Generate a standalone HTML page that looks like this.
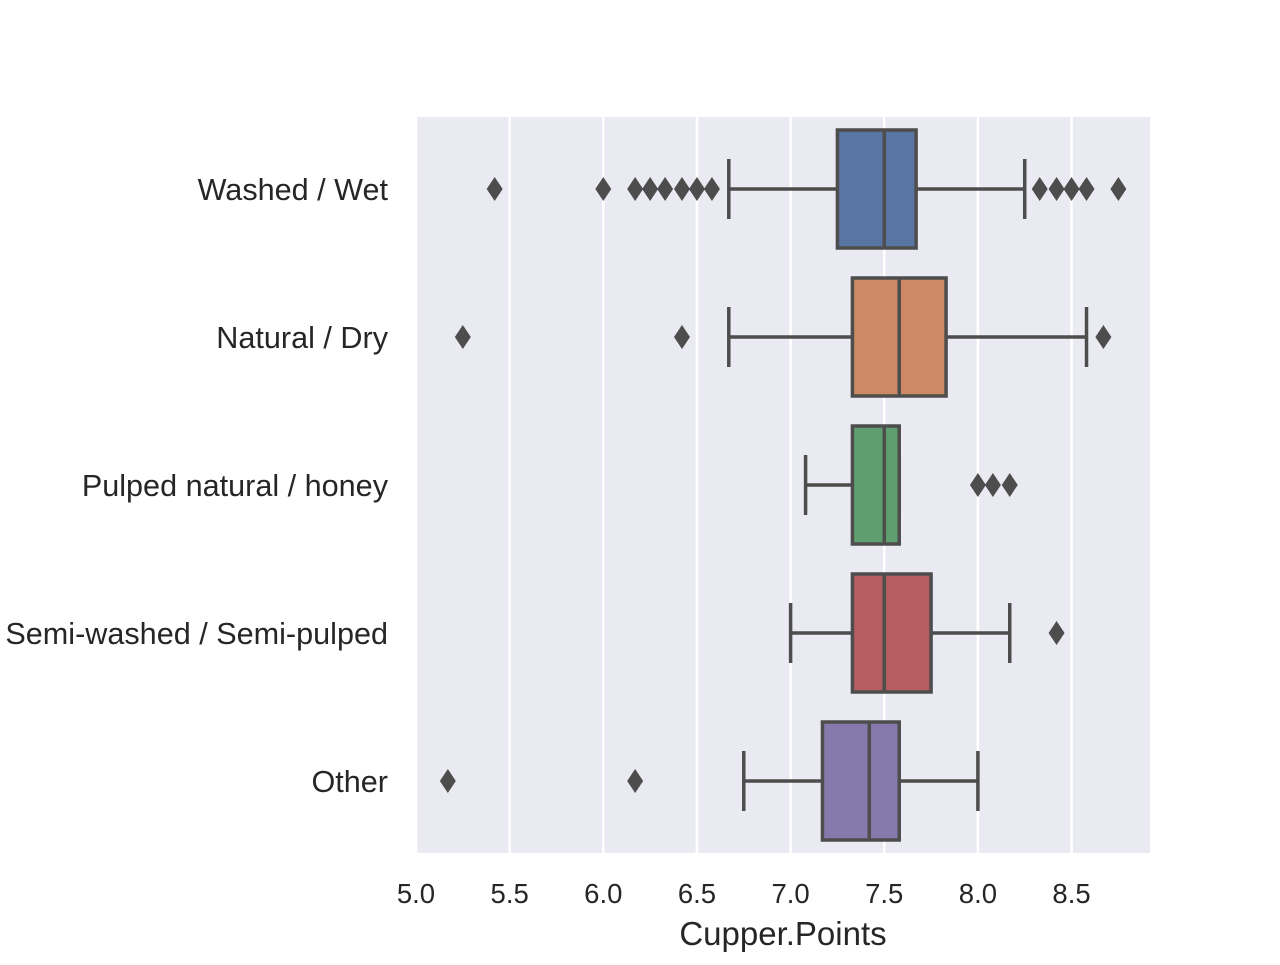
<!DOCTYPE html>
<html><head><meta charset="utf-8"><style>
html,body{margin:0;padding:0;background:#fff;}
svg text{font-family:"Liberation Sans",Arial,sans-serif;fill:#262626;}
</style></head><body>
<svg id="chart" width="1280" height="960" xmlns="http://www.w3.org/2000/svg">
<rect x="417" y="117" width="733" height="736" fill="#eaeaf2"/>
<g id="grid"></g><g id="xticks"></g><g id="ylabels"></g><g id="boxes"></g>
<text x="783" y="945" font-size="33" text-anchor="middle">Cupper.Points</text>
</svg>
<script>
const categories=["Washed / Wet","Natural / Dry","Pulped natural / honey","Semi-washed / Semi-pulped","Other"];
const q1=[7.25,7.33,7.33,7.33,7.17];
const medians=[7.5,7.58,7.5,7.5,7.42];
const q3=[7.67,7.83,7.58,7.75,7.58];
const whiskerLow=[6.67,6.67,7.08,7.0,6.75];
const whiskerHigh=[8.25,8.58,7.58,8.17,8.0];
const outliers=[[5.42,6.0,6.17,6.25,6.33,6.42,6.5,6.58,8.33,8.42,8.5,8.58,8.75],[5.25,6.42,8.67],[8.0,8.08,8.17],[8.42],[5.17,6.17]];
const xTicks=[5.0,5.5,6.0,6.5,7.0,7.5,8.0,8.5];
const colors=["#5975a4","#cc8963","#5f9e6e","#b55d60","#857aab"];
const NS="http://www.w3.org/2000/svg";
const X=v=>416+(v-5)*187.3;
const Y=i=>189+i*148;
function mk(tag,attrs,parent){const e=document.createElementNS(NS,tag);for(const k in attrs)e.setAttribute(k,attrs[k]);document.getElementById(parent).appendChild(e);return e;}
xTicks.forEach(t=>{
 const g=mk('line',{x1:X(t),x2:X(t),y1:117,y2:853,stroke:'#fff','stroke-width':2.5},'grid');
 
 
 const l=mk('text',{x:X(t),y:903,'font-size':27.5,'text-anchor':'middle'},'xticks');
 l.textContent=t.toFixed(1);
 
 
});
const lc='#4d4d4d';
categories.forEach((c,i)=>{
 const y=Y(i),h=118;
 const t=mk('text',{x:388,y:y+11,'font-size':30.6,'text-anchor':'end'},'ylabels');
 t.textContent=c;
 
 
 const w1=mk('line',{x1:X(whiskerLow[i]),x2:X(q1[i]),y1:y,y2:y,stroke:lc,'stroke-width':3.5},'boxes');
 
 
 const w2=mk('line',{x1:X(q3[i]),x2:X(whiskerHigh[i]),y1:y,y2:y,stroke:lc,'stroke-width':3.5},'boxes');
 
 
 [whiskerLow[i],whiskerHigh[i]].forEach(v=>{
  const cap=mk('line',{x1:X(v),x2:X(v),y1:y-30,y2:y+30,stroke:lc,'stroke-width':3.5},'boxes');
  
  
 });
 const b=mk('rect',{x:X(q1[i]),y:y-h/2,width:X(q3[i])-X(q1[i]),height:h,fill:colors[i],stroke:lc,'stroke-width':3.5},'boxes');
 
 
 const m=mk('line',{x1:X(medians[i]),x2:X(medians[i]),y1:y-h/2,y2:y+h/2,stroke:lc,'stroke-width':3.5},'boxes');
 
 
 outliers[i].forEach(v=>{
  const x=X(v);
  const d=mk('polygon',{points:`${x},${y-12} ${x+8},${y} ${x},${y+12} ${x-8},${y}`,fill:lc},'boxes');
  
  
 });
});
</script>
</body></html>
